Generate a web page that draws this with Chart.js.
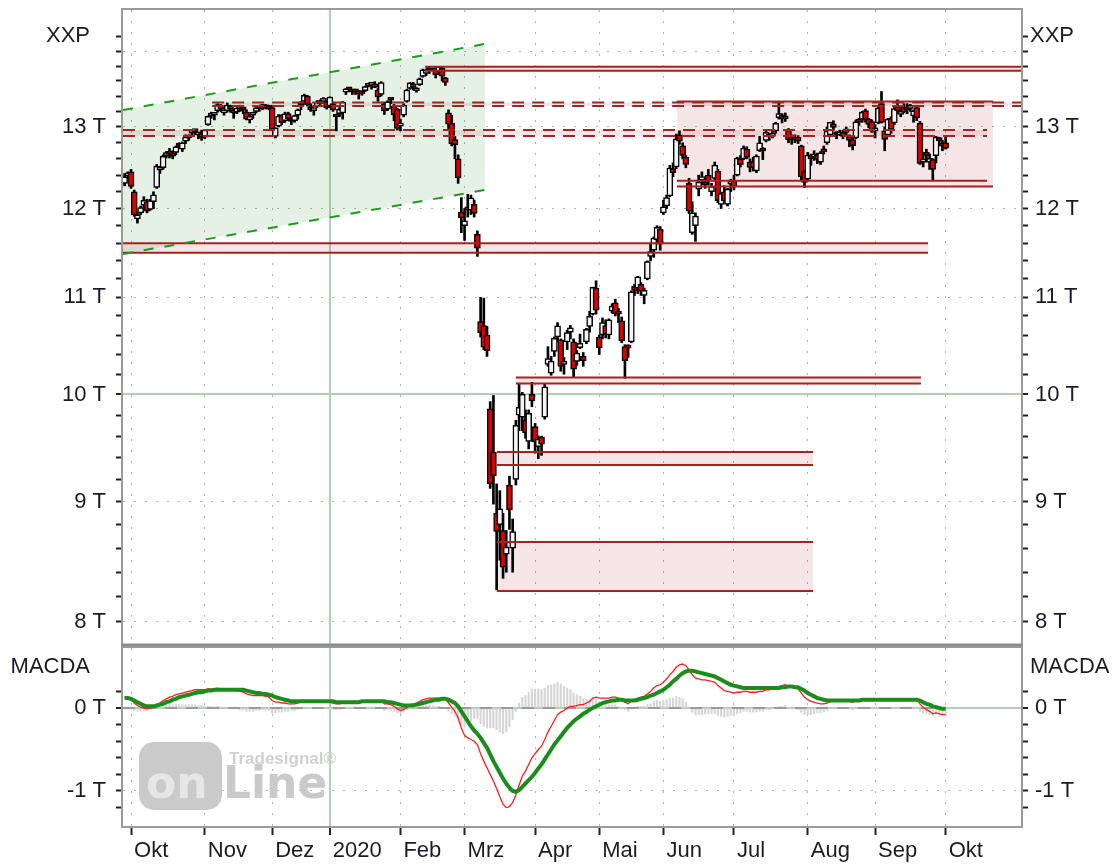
<!DOCTYPE html>
<html>
<head>
<meta charset="utf-8">
<title>XXP</title>
<script src="https://cdn.jsdelivr.net/npm/chart.js@4.4.1/dist/chart.umd.min.js"></script>
<style>
  html, body { margin: 0; padding: 0; background: #fff; }
  #wrap { position: relative; width: 1113px; height: 864px; }
  canvas { position: absolute; left: 0; }
  #price { top: 0; }
  #macd { top: 646px; }
</style>
</head>
<body>
<div id="wrap">
  <canvas id="price" width="1113" height="646"></canvas>
  <canvas id="macd" width="1113" height="218"></canvas>
</div>
<script>
// daily candles [open, high, low, close], one array per month
const sep19 = [[12300,12420,12270,12380],[12390,12440,12360,12428]];
const oct19 = [
  [12440,12470,12240,12264],[12200,12220,11910,11925],[11880,11960,11830,11925],[11950,12030,11930,12012],
  [12040,12140,12010,12097],[12080,12110,11950,11970],[11990,12110,11980,12094],[12080,12200,12000,12164],
  [12250,12530,12240,12511],[12460,12500,12420,12486],[12490,12650,12470,12630],[12640,12690,12610,12670],
  [12690,12730,12610,12654],[12650,12700,12600,12634],[12680,12760,12650,12748],[12760,12800,12740,12755],
  [12720,12810,12690,12798],[12820,12900,12790,12873],[12860,12900,12830,12895],[12920,12970,12900,12942],
  [12950,12960,12900,12940],[12900,12920,12850,12910],[12920,12960,12830,12867]];
const nov19 = [
  [12870,12970,12850,12961],[13030,13140,13020,13136],[13140,13190,13110,13148],[13150,13180,13090,13179],
  [13210,13300,13190,13289],[13270,13290,13200,13228],[13180,13220,13150,13198],[13210,13310,13190,13283],
  [13240,13280,13190,13230],[13210,13230,13110,13180],[13190,13250,13170,13242],[13240,13280,13200,13207],
  [13230,13250,13170,13221],[13190,13220,13090,13101],[13090,13160,13050,13137],[13150,13190,13110,13164],
  [13200,13260,13180,13247],[13250,13260,13200,13233],[13240,13290,13220,13287],[13270,13290,13230,13245],
  [13250,13280,13220,13236]];
const dec19 = [
  [13250,13280,12950,12965],[12880,12990,12860,12989],[13010,13160,13000,13140],[13150,13160,13030,13055],
  [13080,13190,13060,13167],[13170,13190,13080,13105],[13090,13120,13030,13071],[13080,13150,13060,13145],
  [13150,13230,13100,13221],[13310,13330,13220,13283],[13330,13425,13320,13408],[13400,13410,13270,13287],
  [13260,13300,13200,13222],[13210,13230,13150,13212],[13270,13340,13250,13319],[13330,13350,13290,13301],
  [13330,13380,13320,13337],[13330,13340,13230,13249]];
const jan20 = [
  [13270,13390,13250,13386],[13300,13320,13200,13219],[13150,13160,12950,13127],[13170,13250,13130,13227],
  [13180,13330,13100,13321],[13450,13500,13420,13495],[13500,13510,13460,13483],[13480,13490,13420,13452],
  [13470,13490,13420,13456],[13440,13470,13360,13432],[13440,13460,13410,13429],[13470,13530,13460,13526],
  [13530,13560,13520,13549],[13540,13570,13490,13556],[13560,13590,13510,13515],[13480,13500,13330,13388],
  [13420,13590,13400,13577],[13300,13320,13160,13205],[13230,13340,13210,13324],[13360,13370,13300,13345],
  [13270,13290,13080,13158],[13230,13240,12960,12982]];
const feb20 = [
  [13010,13100,12950,13046],[13150,13300,13130,13282],[13330,13490,13320,13479],[13500,13580,13490,13575],
  [13560,13580,13480,13514],[13470,13510,13450,13494],[13550,13640,13540,13627],[13660,13760,13650,13749],
  [13700,13760,13670,13745],[13750,13770,13700,13744],[13760,13790,13740,13783],[13750,13760,13640,13681],
  [13720,13795,13710,13789],[13770,13790,13600,13665],[13640,13650,13540,13579],[13180,13220,12980,13035],
  [13050,13150,12760,12790],[12840,12880,12600,12775],[12600,12650,12300,12367],[11960,12130,11720,11890]];
const mar20 = [
  [11800,12000,11630,11857],[11990,12170,11900,11985],[11980,12160,11930,12128],[12050,12100,11900,11944],
  [11700,11740,11450,11542],[10740,11000,10580,10625],[10700,10990,10450,10475],[10600,10690,10380,10439],
  [9860,9930,9120,9161],[9450,9990,8980,9232],[8900,9160,8256,8742],[8800,9100,8500,8939],
  [8750,8900,8350,8441],[8550,8750,8400,8610],[9150,9230,8760,8929],[8600,8850,8400,8741],
  [9200,9750,9150,9701],[9800,10100,9650,9875],[9780,10020,9650,10000],[9750,9850,9580,9633],
  [9550,9850,9480,9816],[10000,10120,9880,9936]];
const apr20 = [
  [9690,9720,9440,9544],[9500,9600,9390,9571],[9590,9600,9420,9525],[9780,10100,9760,10075],
  [10300,10480,10280,10357],[10210,10380,10190,10333],[10430,10580,10380,10565],[10580,10730,10530,10697],
  [10550,10560,10230,10280],[10300,10370,10200,10301],[10530,10650,10450,10626],[10630,10700,10560,10676],
  [10530,10560,10170,10250],[10330,10440,10290,10415],[10470,10610,10460,10514],[10380,10420,10280,10336],
  [10530,10670,10510,10659],[10690,10850,10630,10796],[10820,11110,10810,11108],[11100,11180,10820,10862]];
const may20 = [
  [10580,10600,10400,10467],[10600,10780,10560,10730],[10700,10760,10570,10606],[10600,10770,10560,10759],
  [10850,10930,10830,10905],[10940,10980,10800,10825],[10840,10880,10730,10820],[10750,10790,10520,10542],
  [10480,10500,10160,10337],[10470,10500,10370,10465],[10530,11070,10520,11058],[11120,11140,11020,11075],
  [11100,11230,11040,11223],[11140,11160,11020,11066],[11020,11100,10930,11074],[11200,11400,11190,11392],
  [11450,11600,11400,11505],[11520,11670,11440,11657],[11640,11800,11620,11781],[11760,11790,11520,11587]];
const jun20 = [
  [11950,12100,11930,12021],[12030,12160,12000,12130],[12150,12520,12140,12487],[12480,12550,12380,12431],
  [12500,12910,12480,12848],[12900,12950,12780,12820],[12760,12800,12600,12642],[12620,12640,12490,12530],
  [12300,12360,11940,11970],[11720,12080,11700,11949],[11800,11950,11620,11911],[12230,12400,12150,12316],
  [12340,12440,12300,12382],[12320,12370,12240,12281],[12400,12470,12280,12331],[12200,12300,12150,12262],
  [12360,12560,12330,12523],[12450,12470,12070,12094],[12050,12190,12000,12177],[12200,12270,12070,12089],
  [12050,12240,12030,12232],[12290,12350,12200,12311]];
const jul20 = [
  [12330,12400,12220,12260],[12400,12620,12390,12608],[12600,12640,12500,12528],[12600,12760,12590,12733],
  [12720,12750,12600,12616],[12560,12600,12440,12494],[12570,12620,12450,12489],[12450,12650,12430,12633],
  [12700,12880,12690,12800],[12720,12740,12590,12697],[12830,12960,12810,12930],[12890,12920,12830,12874],
  [12880,12950,12860,12920],[12950,13060,12920,13046],[13120,13310,13100,13171],[13150,13170,13050,13104],
  [13130,13180,13070,13103],[12960,12980,12800,12838],[12880,12900,12780,12839],[12860,12900,12800,12835],
  [12870,12890,12790,12822],[12760,12770,12330,12379],[12440,12460,12250,12313]];
const aug20 = [
  [12350,12680,12330,12647],[12640,12660,12520,12600],[12620,12700,12580,12660],[12650,12670,12540,12591],
  [12560,12690,12530,12674],[12700,12760,12660,12687],[12800,13000,12780,12946],[12900,13060,12880,13058],
  [13040,13080,12960,12993],[12920,12940,12850,12901],[12900,12960,12890,12920],[12930,12960,12850,12881],
  [12930,13000,12900,12977],[12880,12900,12750,12830],[12840,12860,12710,12764],[12860,13090,12850,13066],
  [13080,13110,13020,13061],[13100,13200,13060,13190],[13210,13230,13060,13096],[13100,13110,12990,13033],
  [13070,13090,12930,12945]];
const sep20 = [
  [12950,13030,12860,12974],[13050,13270,13040,13243],[13300,13460,13050,13057],[12950,13000,12700,12842],
  [12900,13110,12880,13100],[13110,13130,12920,12968],[13050,13250,13030,13237],[13260,13350,13170,13209],
  [13160,13250,13130,13202],[13250,13300,13180,13194],[13230,13300,13170,13218],[13240,13290,13200,13255],
  [13140,13220,13060,13208],[13250,13280,13080,13116],[13050,13070,12530,12542],[12560,12650,12500,12595],
  [12660,12720,12560,12643],[12560,12660,12470,12607],[12590,12600,12340,12469],[12640,12880,12550,12871],
  [12850,12870,12760,12826],[12790,12830,12700,12761]];
const oct20 = [[12800,12880,12720,12731]];

// month tick labels (one for each month from oct19 on)
const monthLabels = ['Okt','Nov','Dez','2020','Feb','Mrz','Apr','Mai','Jun','Jul','Aug','Sep','Okt'];
const priceTicks = [8000,8200,8400,8600,8800,9000,9200,9400,9600,9800,10000,10200,10400,10600,10800,
  11000,11200,11400,11600,11800,12000,12200,12400,12600,12800,13000,13200,13400,13600,13800,14000,14200];
const macdTicks = [-1.2,-1,-0.8,-0.6,-0.4,-0.2,0,0.2];

// MACD (red), signal (green), histogram (gray), in thousands
const macdLine = [
  0.13,0.12,
  0.10,0.06,0.03,0.01,0.00,-0.01,0.00,0.01,0.04,0.06,0.09,0.11,0.13,0.14,0.16,0.17,0.18,0.19,0.20,0.21,0.22,0.22,0.22,
  0.22,0.23,0.23,0.23,0.24,0.23,0.23,0.23,0.22,0.21,0.21,0.20,0.19,0.17,0.16,0.15,0.15,0.15,0.15,0.14,0.13,
  0.09,0.07,0.07,0.06,0.06,0.05,0.05,0.05,0.06,0.07,0.09,0.09,0.08,0.07,0.08,0.08,0.08,0.07,
  0.07,0.06,0.05,0.05,0.06,0.07,0.08,0.08,0.08,0.08,0.08,0.08,0.09,0.09,0.09,0.08,0.09,0.05,0.05,0.04,0.02,-0.01,
  -0.03,-0.02,0.01,0.04,0.05,0.06,0.08,0.10,0.11,0.12,0.12,0.12,0.12,0.12,0.11,0.06,0.01,-0.04,-0.12,-0.24,
  -0.33,-0.36,-0.38,-0.40,-0.44,-0.55,-0.64,-0.72,-0.80,-0.88,-0.97,-1.07,-1.16,-1.20,-1.19,-1.14,-1.05,-0.93,-0.82,-0.76,-0.68,-0.60,
  -0.55,-0.50,-0.46,-0.38,-0.29,-0.22,-0.15,-0.08,-0.05,-0.03,0.00,0.02,0.02,0.03,0.04,0.04,0.06,0.08,0.12,0.13,
  0.12,0.12,0.12,0.12,0.13,0.13,0.12,0.10,0.07,0.05,0.08,0.10,0.12,0.13,0.14,0.17,0.20,0.24,0.27,0.28,
  0.31,0.35,0.40,0.44,0.49,0.52,0.53,0.51,0.46,0.40,0.36,0.35,0.34,0.34,0.33,0.32,0.31,0.27,0.24,0.21,0.20,0.19,
  0.18,0.19,0.19,0.20,0.20,0.19,0.19,0.19,0.20,0.20,0.22,0.22,0.23,0.24,0.26,0.27,0.28,0.26,0.25,0.24,0.23,0.18,0.13,
  0.10,0.08,0.07,0.06,0.05,0.05,0.06,0.08,0.09,0.09,0.09,0.09,0.09,0.08,0.07,0.09,0.10,0.11,0.11,0.11,0.10,
  0.09,0.10,0.10,0.09,0.10,0.09,0.10,0.11,0.11,0.11,0.11,0.11,0.11,0.10,0.05,0.01,-0.02,-0.04,-0.07,-0.06,-0.07,-0.08,
  -0.08];
const signalLine = [
  0.12,0.12,
  0.11,0.09,0.07,0.05,0.03,0.02,0.02,0.02,0.03,0.04,0.05,0.07,0.08,0.10,0.11,0.13,0.14,0.15,0.16,0.17,0.18,0.19,0.19,
  0.20,0.21,0.21,0.22,0.22,0.22,0.22,0.22,0.22,0.22,0.22,0.22,0.22,0.21,0.20,0.19,0.18,0.18,0.17,0.17,0.16,
  0.15,0.13,0.12,0.11,0.10,0.09,0.08,0.08,0.08,0.08,0.08,0.08,0.08,0.08,0.08,0.08,0.08,0.08,
  0.08,0.08,0.07,0.07,0.07,0.07,0.07,0.07,0.07,0.07,0.08,0.08,0.08,0.08,0.08,0.08,0.08,0.08,0.07,0.07,0.06,0.05,
  0.04,0.03,0.03,0.03,0.03,0.04,0.05,0.06,0.07,0.08,0.09,0.10,0.10,0.11,0.11,0.10,0.08,0.06,0.02,-0.04,
  -0.10,-0.16,-0.22,-0.27,-0.31,-0.36,-0.42,-0.48,-0.56,-0.64,-0.71,-0.78,-0.85,-0.91,-0.96,-1.00,-1.01,-0.99,-0.95,-0.91,-0.87,-0.83,
  -0.78,-0.73,-0.68,-0.62,-0.56,-0.50,-0.44,-0.39,-0.34,-0.29,-0.24,-0.20,-0.16,-0.13,-0.10,-0.07,-0.05,-0.02,0.00,0.02,
  0.04,0.06,0.07,0.08,0.09,0.09,0.10,0.10,0.09,0.09,0.09,0.09,0.10,0.11,0.12,0.13,0.15,0.16,0.18,0.20,
  0.22,0.25,0.28,0.32,0.35,0.39,0.42,0.44,0.45,0.45,0.44,0.43,0.42,0.41,0.40,0.39,0.38,0.36,0.34,0.32,0.30,0.28,
  0.27,0.26,0.25,0.24,0.24,0.24,0.24,0.24,0.24,0.24,0.24,0.24,0.24,0.24,0.24,0.25,0.25,0.26,0.26,0.25,0.25,0.23,0.21,
  0.18,0.16,0.14,0.12,0.11,0.10,0.09,0.09,0.09,0.09,0.09,0.09,0.09,0.09,0.09,0.09,0.09,0.10,0.10,0.10,0.10,
  0.10,0.10,0.10,0.10,0.10,0.10,0.10,0.10,0.10,0.10,0.10,0.10,0.10,0.10,0.09,0.07,0.05,0.04,0.02,0.01,0.00,-0.01,
  -0.01];
const histogram = [
  0.01,0.00,
  -0.01,-0.03,-0.04,-0.04,-0.03,-0.03,-0.02,-0.01,0.01,0.02,0.04,0.04,0.05,0.04,0.05,0.04,0.04,0.04,0.04,0.04,0.04,0.03,0.03,
  0.02,0.02,0.02,0.01,0.02,0.01,0.01,0.01,0.00,-0.01,-0.01,-0.02,-0.03,-0.04,-0.04,-0.04,-0.03,-0.03,-0.02,-0.03,-0.03,
  -0.06,-0.06,-0.05,-0.05,-0.04,-0.04,-0.03,-0.03,-0.02,-0.01,0.01,0.01,0.00,-0.01,0.00,0.00,0.00,-0.01,
  -0.01,-0.02,-0.02,-0.02,-0.01,0.00,0.01,0.01,0.01,0.01,0.00,0.00,0.01,0.01,0.01,0.00,0.01,-0.03,-0.02,-0.03,-0.04,-0.06,
  -0.07,-0.05,-0.02,0.01,0.02,0.02,0.03,0.04,0.04,0.04,0.03,0.02,0.02,0.01,0.00,-0.04,-0.07,-0.10,-0.14,-0.20,
  -0.23,-0.20,-0.16,-0.13,-0.13,-0.19,-0.22,-0.24,-0.24,-0.24,-0.26,-0.29,-0.31,-0.29,-0.23,-0.14,-0.04,0.06,0.13,0.15,0.19,0.23,
  0.23,0.23,0.22,0.24,0.27,0.28,0.29,0.31,0.29,0.26,0.24,0.22,0.18,0.16,0.14,0.11,0.11,0.10,0.12,0.11,
  0.08,0.06,0.05,0.04,0.04,0.04,0.02,0.00,-0.02,-0.04,-0.01,0.01,0.02,0.02,0.02,0.04,0.05,0.08,0.09,0.08,
  0.09,0.10,0.12,0.12,0.14,0.13,0.11,0.07,0.01,-0.05,-0.08,-0.08,-0.08,-0.07,-0.07,-0.07,-0.07,-0.09,-0.10,-0.11,-0.10,-0.09,
  -0.09,-0.07,-0.06,-0.04,-0.04,-0.05,-0.05,-0.05,-0.04,-0.04,-0.02,-0.02,-0.01,0.00,0.02,0.02,0.03,0.00,-0.01,-0.01,-0.02,-0.05,-0.08,
  -0.08,-0.08,-0.07,-0.06,-0.06,-0.05,-0.03,-0.01,0.00,0.00,0.00,0.00,0.00,-0.01,-0.02,0.00,0.01,0.01,0.01,0.01,0.00,
  -0.01,0.00,0.00,-0.01,0.00,-0.01,0.00,0.01,0.01,0.01,0.01,0.01,0.01,0.00,-0.04,-0.06,-0.07,-0.08,-0.09,-0.07,-0.07,-0.07,
  -0.07];

// trend channel [day index, price]
const channelTop = [[-0.5, 13218], [112.4, 14103]];
const channelBottom = [[-0.5, 11477], [112.4, 12221]];
// support / resistance zones [from day, to day, upper price, lower price]
const solidZones = [
  [93.7, 279.5, 13790, 13735],
  [-0.5, 250.5, 11600, 11490],
  [122.0, 248.3, 10168, 10108],
  [116.1, 214.7, 9451, 9332],
  [116.1, 214.7, 8653, 8247],
  [172.2, 270.8, 13330, 12261]
];
const dashedZones = [
  [27.3, 279.5, 13316, 13271],
  [-0.5, 268.9, 12962, 12886]
];
const extraLevel = [172.2, 268.9, 12333];

// ---------------------------------------------------------------
const months = [sep19, oct19, nov19, dec19, jan20, feb20, mar20, apr20, may20, jun20, jul20, aug20, sep20, oct20];
const ohlc = [].concat(...months);
const monthStarts = [];
let count = 0;
months.forEach((m, k) => { if (k > 0) monthStarts.push(count); count += m.length; });
const janTick = monthStarts[3];

const X_MIN = -0.5, X_MAX = 279.5;
const FONT = {family: '"Liberation Sans", Arial, sans-serif', size: 22};
const TEXT = '#1b1b28';
const DOT = '#a2bca2';
const CROSS = '#b3cfb3';
const RED = '#a62222';
const BAND = 'rgba(170,60,60,0.13)';

function xAxis(showLabels) {
  return {
    type: 'linear', min: X_MIN, max: X_MAX, offset: false, bounds: 'data', position: 'bottom',
    afterBuildTicks: s => { s.ticks = monthStarts.map(v => ({value: v})); },
    afterFit: s => { s.height = showLabels ? 38 : 0; s.paddingLeft = 0; s.paddingRight = 0; },
    ticks: {
      display: showLabels, autoSkip: false, maxRotation: 0, align: 'start', labelOffset: 3, padding: 3,
      font: FONT, color: TEXT,
      callback: v => monthLabels[monthStarts.indexOf(v)]
    },
    grid: {
      offset: false, drawTicks: showLabels, tickLength: 9, tickWidth: 2, tickColor: '#222',
      color: c => c.tick && c.tick.value === janTick ? CROSS : DOT,
      lineWidth: c => c.tick && c.tick.value === janTick ? 2 : 1
    },
    border: {display: false, dash: c => c.tick && c.tick.value === janTick ? [] : [2, 9]}
  };
}

function yAxis(pos, opts) {
  const left = pos === 'left';
  return {
    type: opts.type, position: pos, min: opts.min, max: opts.max, bounds: 'data',
    afterBuildTicks: s => { s.ticks = opts.ticks.map(v => ({value: v})); },
    afterFit: s => { s.width = left ? 123 : 92; s.paddingTop = 0; s.paddingBottom = 0; },
    ticks: {autoSkip: false, font: FONT, color: TEXT, padding: left ? 10 : 7, callback: opts.label},
    grid: {
      drawOnChartArea: left, tickLength: 7, tickWidth: 2, tickColor: '#222',
      color: c => c.tick ? opts.gridColor(c.tick.value) : 'rgba(0,0,0,0)',
      lineWidth: c => c.tick && opts.gridColor(c.tick.value) === CROSS ? 2 : 1
    },
    border: {display: false, dash: c => c.tick && opts.gridColor(c.tick.value) === CROSS ? [] : [2, 9]}
  };
}

const priceOpts = {
  type: 'logarithmic', min: 7829, max: 14580, ticks: priceTicks,
  label: v => (v % 1000 === 0 && v <= 13000) ? (v / 1000) + ' T' : '',
  gridColor: v => v % 1000 ? 'rgba(0,0,0,0)' : (v === 10000 ? CROSS : DOT)
};
const macdOpts = {
  type: 'linear', min: -1.422, max: 0.723, ticks: macdTicks,
  label: v => Math.abs(v) < 1e-9 ? '0 T' : (Math.abs(v + 1) < 1e-9 ? '-1 T' : ''),
  gridColor: v => Math.abs(v) < 1e-9 ? CROSS : (Math.abs(v + 1) < 1e-9 ? DOT : 'rgba(0,0,0,0)')
};

function lineSet(points, color, width, dash, fill, bg) {
  return {
    type: 'line', data: points, borderColor: color, borderWidth: width, borderDash: dash,
    pointRadius: 0, tension: 0, fill: fill, backgroundColor: bg, order: 1, yAxisID: 'y'
  };
}
const seg = (a, b, v) => [{x: a, y: v}, {x: b, y: v}];
const pts = arr => arr.map(p => ({x: p[0], y: p[1]}));

const priceSets = [];
priceSets.push(lineSet(pts(channelTop), '#1f9a1f', 2, [10, 11], '+1', 'rgba(40,140,40,0.12)'));
priceSets.push(lineSet(pts(channelBottom), '#1f9a1f', 2, [10, 11], false, 'transparent'));
solidZones.forEach(z => {
  priceSets.push(lineSet(seg(z[0], z[1], z[2]), RED, 2, [], '+1', BAND));
  priceSets.push(lineSet(seg(z[0], z[1], z[3]), RED, 2, [], false, 'transparent'));
});
dashedZones.forEach(z => {
  priceSets.push(lineSet(seg(z[0], z[1], z[2]), RED, 2, [12, 8], '+1', BAND));
  priceSets.push(lineSet(seg(z[0], z[1], z[3]), RED, 2, [12, 8], false, 'transparent'));
});
priceSets.push(lineSet(seg(extraLevel[0], extraLevel[1], extraLevel[2]), RED, 2, [], false, 'transparent'));

priceSets.push({
  type: 'bar', yAxisID: 'y', order: 2, grouped: false, barThickness: 6, minBarLength: 3,
  data: ohlc.map((r, i) => ({x: i, y: [Math.min(r[0], r[3]), Math.max(r[0], r[3])]})),
  backgroundColor: ohlc.map(r => r[3] >= r[0] ? '#f4f4f4' : '#dc0000'),
  borderColor: '#000', borderWidth: 1.5, borderSkipped: false
});
priceSets.push({
  type: 'bar', yAxisID: 'y', order: 3, grouped: false, barThickness: 2,
  data: ohlc.map((r, i) => ({x: i, y: [r[2], r[1]]})),
  backgroundColor: '#000', borderWidth: 0
});

function framePlugin(thickBottom) {
  return {
    id: 'frame',
    afterDraw(chart) {
      const {ctx, chartArea: a} = chart;
      ctx.save();
      ctx.strokeStyle = '#9a9a9a';
      ctx.lineWidth = 2;
      ctx.strokeRect(a.left - 1, a.top - 1, a.right - a.left + 2, a.bottom - a.top + 2);
      if (thickBottom) {
        ctx.strokeStyle = '#8c8c8c';
        ctx.lineWidth = 3;
        ctx.beginPath(); ctx.moveTo(a.left - 2, a.bottom + 1); ctx.lineTo(a.right + 2, a.bottom + 1); ctx.stroke();
      }
      ctx.restore();
    }
  };
}

function titlePlugin(text, y) {
  return {
    id: 'titles',
    afterDraw(chart) {
      const ctx = chart.ctx;
      ctx.save();
      ctx.font = '22px "Liberation Sans", Arial, sans-serif';
      ctx.fillStyle = TEXT;
      ctx.textBaseline = 'alphabetic';
      ctx.textAlign = 'right';
      ctx.fillText(text, chart.chartArea.left - 33, y);
      ctx.textAlign = 'left';
      ctx.fillText(text, chart.chartArea.right + 9, y);
      ctx.restore();
    }
  };
}

const watermark = {
  id: 'watermark',
  beforeDatasetsDraw(chart) {
    const ctx = chart.ctx;
    ctx.save();
    ctx.fillStyle = '#cacaca';
    ctx.beginPath();
    ctx.roundRect(139, 96, 83, 68, 15);
    ctx.fill();
    ctx.font = 'bold 44px "DejaVu Sans", sans-serif';
    ctx.fillStyle = '#e6e6e6';
    ctx.fillText('on', 146, 152);
    ctx.fillStyle = '#cacaca';
    ctx.fillText('Line', 223, 152);
    ctx.font = 'bold 17px "Liberation Sans", Arial, sans-serif';
    ctx.fillStyle = '#d0d0d0';
    ctx.fillText('Tradesignal\u00AE', 229, 118);
    ctx.restore();
  }
};

const common = {
  responsive: false, animation: false, devicePixelRatio: 1, events: [],
  plugins: {legend: {display: false}, tooltip: {enabled: false}, filler: {drawTime: 'beforeDatasetsDraw'}}
};

new Chart(document.getElementById('price').getContext('2d'), {
  type: 'bar',
  data: {datasets: priceSets},
  options: Object.assign({}, common, {
    layout: {padding: {top: 10, bottom: 2, left: 0, right: 0}},
    scales: {
      x: xAxis(false),
      y: yAxis('left', priceOpts),
      yR: yAxis('right', priceOpts)
    }
  }),
  plugins: [framePlugin(true), titlePlugin('XXP', 42)]
});

new Chart(document.getElementById('macd').getContext('2d'), {
  type: 'bar',
  data: {
    datasets: [
      {type: 'line', yAxisID: 'y', order: 1, data: signalLine.map((v, i) => ({x: i, y: v})),
        borderColor: '#1c8c1c', borderWidth: 4, pointRadius: 0, tension: 0},
      {type: 'line', yAxisID: 'y', order: 2, data: macdLine.map((v, i) => ({x: i, y: v})),
        borderColor: '#ff1c1c', borderWidth: 1.3, pointRadius: 0, tension: 0},
      {type: 'line', yAxisID: 'y', order: 3, data: [{x: -0.5, y: 0}, {x: ohlc.length - 1, y: 0}],
        borderColor: '#9a9a9a', borderWidth: 2, borderDash: [12, 9], pointRadius: 0},
      {type: 'bar', yAxisID: 'y', order: 4, grouped: false, barThickness: 1.5,
        data: histogram.map((v, i) => ({x: i, y: v})), backgroundColor: '#d6d6d6'}
    ]
  },
  options: Object.assign({}, common, {
    layout: {padding: {top: 2, bottom: 0, left: 0, right: 0}},
    scales: {
      x: xAxis(true),
      y: yAxis('left', macdOpts),
      yR: yAxis('right', macdOpts)
    }
  }),
  plugins: [watermark, framePlugin(false), titlePlugin('MACDA', 27)]
});
</script>
</body>
</html>
